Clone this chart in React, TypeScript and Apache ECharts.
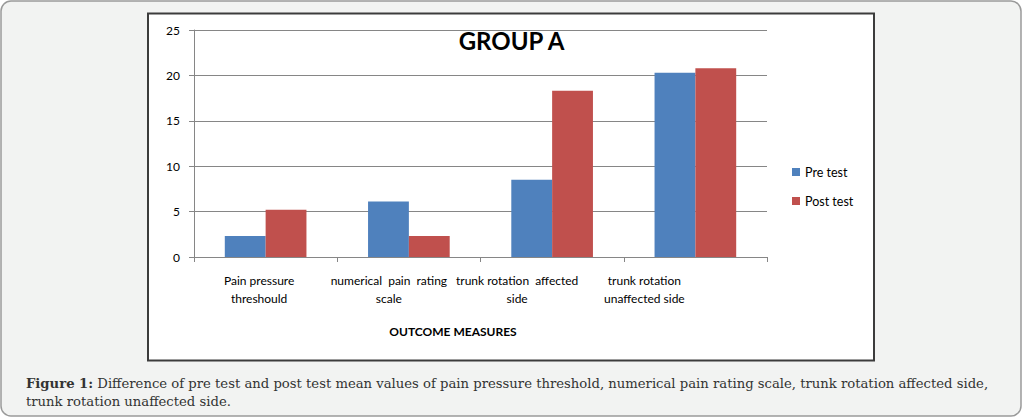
import React, { useEffect, useRef } from "react";
import * as echarts from "echarts";

const categories = [
  "Pain pressure\nthreshould",
  "numerical  pain  rating\nscale",
  "trunk rotation  affected\nside",
  "trunk rotation\nunaffected side",
];
const labelShift = [13, 40, 70, 102];
const preTest = [2.3, 6.1, 8.5, 20.3];
const postTest = [5.2, 2.3, 18.3, 20.8];
const yTicks = { min: 0, max: 25, interval: 5 };
const seriesNames = ["Pre test", "Post test"];
const chartTitle = "GROUP A";
const xAxisTitle = "OUTCOME MEASURES";
const caption =
  "{b|Figure 1:} Difference of pre test and post test mean values of pain pressure threshold, numerical pain rating scale, trunk rotation affected side,\ntrunk rotation unaffected side.";

const FONT = "Lato";
const SERIF = "DejaVu Serif";

export default function App() {
  const ref = useRef<HTMLDivElement>(null);
  useEffect(() => {
    document.body.style.margin = "0";
    const chart = echarts.init(ref.current!, null, { renderer: "svg" });
    chart.setOption({
      animation: false,
      textStyle: { fontFamily: FONT },
      title: {
        text: chartTitle,
        left: "center",
        top: 23,
        textStyle: { fontFamily: FONT, fontSize: 24, fontWeight: "bold", color: "#000" },
      },
      legend: {
        orient: "vertical",
        left: 787,
        top: 160,
        itemWidth: 8,
        itemHeight: 8,
        itemGap: 15,
        icon: "rect",
        data: seriesNames,
        textStyle: { fontFamily: FONT, fontSize: 12.5, color: "#000", lineHeight: 14 },
      },
      graphic: [
        {
          type: "rect",
          z: -100,
          shape: { x: 1, y: 1, width: 1020, height: 415, r: 10 },
          style: { fill: "#f2f3f2", stroke: "#9a9a9a", lineWidth: 1.5 },
        },
        {
          type: "rect",
          z: -99,
          shape: { x: 148, y: 13.5, width: 726, height: 347 },
          style: { fill: "#ffffff", stroke: "#3c3c3c", lineWidth: 2 },
        },
        {
          type: "text",
          x: 26,
          y: 374,
          style: {
            text: caption,
            fontFamily: SERIF,
            fontSize: 13.2,
            lineHeight: 18,
            fill: "#333333",
            rich: {
              b: { fontFamily: SERIF, fontSize: 13.2, fontWeight: "bold", fill: "#333333", lineHeight: 18 },
            },
          },
        },
      ],
      grid: { left: 194, right: 256, top: 30, bottom: 162 },
      xAxis: {
        type: "category",
        data: categories.map((c, i) => ({
          value: c,
          textStyle: { padding: [0, labelShift[i], 0, 0] },
        })),
        name: xAxisTitle,
        nameLocation: "middle",
        nameGap: 68,
        nameTextStyle: {
          fontFamily: FONT,
          fontSize: 12,
          fontWeight: "bold",
          color: "#000",
          padding: [0, 55, 0, 0],
        },
        axisLine: { lineStyle: { color: "#868686", width: 1 } },
        axisTick: { show: true, length: 5, lineStyle: { color: "#868686" } },
        axisLabel: {
          interval: 0,
          margin: 14,
          fontFamily: FONT,
          fontSize: 12,
          lineHeight: 18,
          color: "#000",
        },
      },
      yAxis: {
        type: "value",
        min: yTicks.min,
        max: yTicks.max,
        interval: yTicks.interval,
        axisLine: { show: true, lineStyle: { color: "#868686", width: 1 } },
        axisTick: { show: true, length: 5, lineStyle: { color: "#868686" } },
        axisLabel: { margin: 14, fontFamily: FONT, fontSize: 12, color: "#000" },
        splitLine: { lineStyle: { color: "#868686", width: 1 } },
      },
      series: [
        {
          name: seriesNames[0],
          type: "bar",
          data: preTest,
          barGap: "0%",
          barCategoryGap: "43%",
          itemStyle: { color: "#4f81bd" },
        },
        {
          name: seriesNames[1],
          type: "bar",
          data: postTest,
          barGap: "0%",
          barCategoryGap: "43%",
          itemStyle: { color: "#c0504d" },
        },
      ],
    });
    return () => chart.dispose();
  }, []);
  return <div ref={ref} style={{ width: 1023, height: 419 }} />;
}
